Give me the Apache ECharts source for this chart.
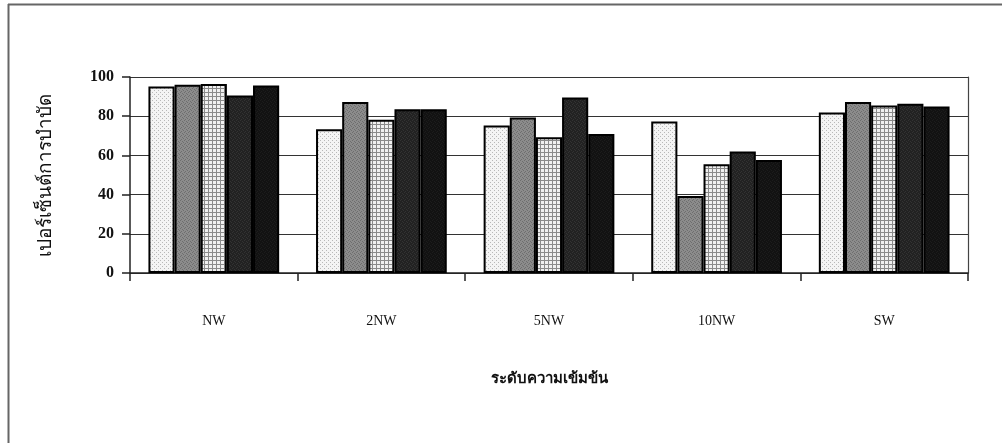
<!DOCTYPE html>
<html><head><meta charset="utf-8">
<script src="https://cdn.jsdelivr.net/npm/echarts@6/dist/echarts.min.js"></script>
<style>html,body{margin:0;padding:0;background:#fff}#c{width:1002px;height:443px}</style>
</head><body><div id="c"></div>
<script>
const categories = ['NW', '2NW', '5NW', '10NW', 'SW'];
const series1 = [95.2, 73.4, 75.3, 77.3, 81.9];
const series2 = [96.1, 87.2, 79.4, 39.3, 87.2];
const series3 = [96.4, 78.2, 69.2, 55.5, 85.5];
const series4 = [90.6, 83.6, 89.6, 62.0, 86.4];
const series5 = [95.6, 83.5, 70.9, 57.7, 85.0];
const yTicks = [0, 20, 40, 60, 80, 100];

function pattern(bg, fg, kind) {
  const c = document.createElement('canvas');
  c.width = 4; c.height = 4;
  const g = c.getContext('2d');
  g.fillStyle = bg; g.fillRect(0, 0, 4, 4);
  g.fillStyle = fg;
  if (kind === 'dots') { g.fillRect(0, 0, 1, 1); g.fillRect(2, 2, 1, 1); }
  else if (kind === 'grid') { g.fillRect(0, 0, 4, 1); g.fillRect(0, 0, 1, 4); }
  else if (kind === 'noise') { g.fillRect(0, 0, 1, 1); g.fillRect(2, 1, 1, 1); g.fillRect(1, 3, 1, 1); g.fillRect(3, 2, 1, 1); }
  return { image: c, repeat: 'repeat' };
}
const fills = [
  pattern('#f4f4f4', '#b8b8b8', 'dots'),
  pattern('#8c8c8c', '#6e6e6e', 'noise'),
  pattern('#f0f0f0', '#8a8a8a', 'grid'),
  pattern('#222222', '#333333', 'noise'),
  pattern('#121212', '#1c1c1c', 'noise')
];
const data = [series1, series2, series3, series4, series5];
const chart = echarts.init(document.getElementById('c'), null, { renderer: 'canvas' });
const serif = '"Liberation Serif", "DejaVu Serif", "Noto Sans", serif';
chart.setOption({
  animation: false,
  backgroundColor: '#fff',
  grid: { left: 130, right: 34, top: 77, bottom: 170, containLabel: false },
  xAxis: {
    type: 'category', data: categories,
    axisLine: { lineStyle: { color: '#222', width: 1.5 } },
    axisTick: { show: true, length: 8, inside: false, lineStyle: { color: '#222', width: 1.5 } },
    axisLabel: { color: '#111', fontFamily: serif, fontSize: 14, margin: 41 },
    name: 'ระดับความเข้มข้น', nameLocation: 'middle', nameGap: 99,
    nameTextStyle: { color: '#111', fontFamily: serif, fontSize: 15, fontWeight: 'bold' }
  },
  yAxis: [{
    type: 'value', min: 0, max: 100, interval: 20,
    axisLine: { show: true, lineStyle: { color: '#222', width: 1.5 } },
    axisTick: { show: true, length: 8, lineStyle: { color: '#222', width: 1.5 } },
    splitLine: { show: true, lineStyle: { color: '#333', width: 1.2 } },
    axisLabel: { color: '#111', fontFamily: serif, fontSize: 16, fontWeight: 'bold', margin: 16,
      formatter: v => yTicks.includes(v) ? String(v) : '' },
    name: 'เปอร์เซ็นต์การบำบัด', nameLocation: 'middle', nameGap: 74, nameRotate: 90,
    nameTextStyle: { color: '#111', fontFamily: serif, fontSize: 19 }
  }, {
    type: 'value', min: 0, max: 100, interval: 20, position: 'right',
    axisLine: { show: true, lineStyle: { color: '#444', width: 1.2 } },
    axisTick: { show: false }, axisLabel: { show: false }, splitLine: { show: false }
  }],
  series: data.map((d, i) => ({
    type: 'bar', data: d, barGap: '0%', barCategoryGap: '22%',
    itemStyle: { color: fills[i], borderColor: '#000', borderWidth: 2 }
  })),
  graphic: [
    { type: 'line', shape: { x1: 8, y1: 4.5, x2: 1002, y2: 4.5 }, style: { stroke: '#666', lineWidth: 2 } },
    { type: 'line', shape: { x1: 8.5, y1: 4, x2: 8.5, y2: 443 }, style: { stroke: '#666', lineWidth: 2 } }
  ]
});
</script></body></html>
